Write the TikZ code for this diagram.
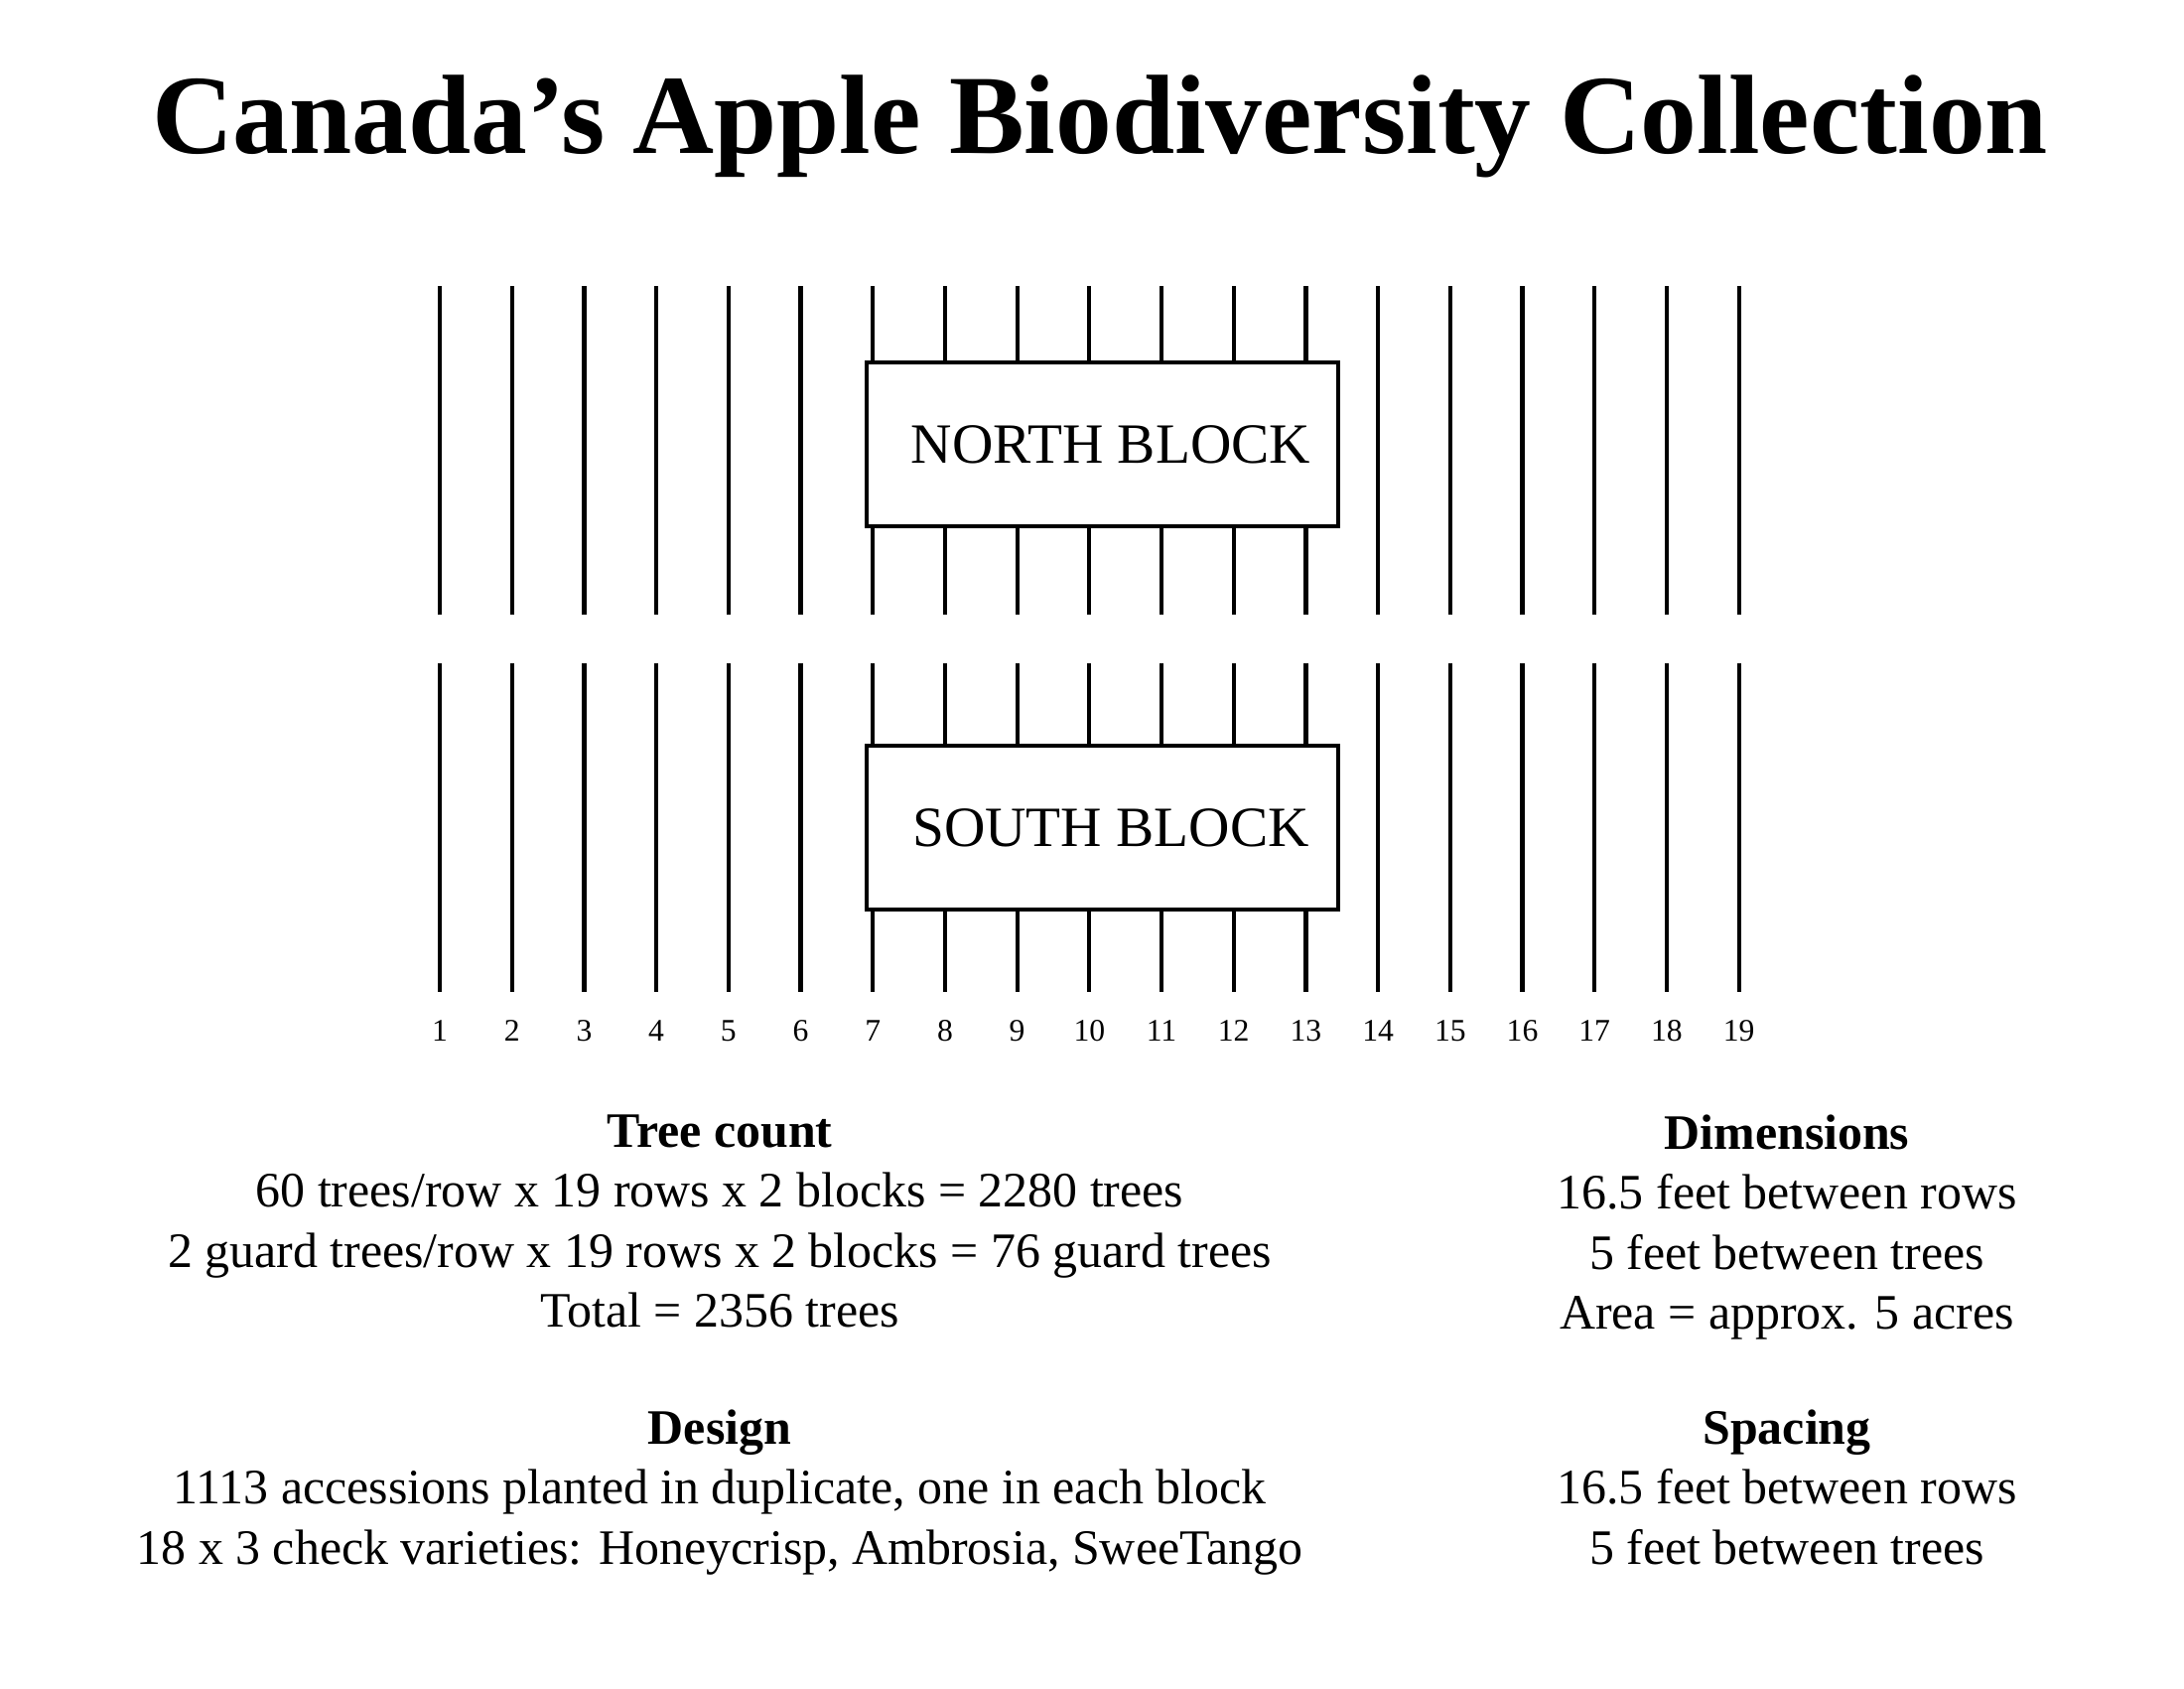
\documentclass[tikz,border=0pt]{standalone}
\usepackage{fontspec}
\setmainfont{Liberation Serif}
\usepackage{tikz}
\usetikzlibrary{positioning}

\begin{document}
\begin{tikzpicture}[
  every node/.style={align=center, inner sep=0pt},
  rowline/.style={line width=1.2pt},
  block/.style={rectangle, draw, line width=1.4pt, fill=white, minimum width=4.75cm, minimum height=1.65cm, font=\fontsize{16.3}{20}\selectfont},
  rownum/.style={font=\fontsize{9}{11}\selectfont, anchor=base},
  info/.style={font=\fontsize{14.2}{17.2}\selectfont, anchor=north}
]
\useasboundingbox (0,0) rectangle (22,-17);

% TITLE
\node[font=\fontsize{32.3}{38}\selectfont\bfseries, anchor=base] (title) at (11.08,-1.54) {Canada’s Apple Biodiversity Collection};

% ROWS
\foreach \i in {1,...,19} {
  \pgfmathsetmacro{\xx}{4.43+(\i-1)*0.727}
  \draw[rowline] (\xx,-2.88) -- (\xx,-6.19);
  \draw[rowline] (\xx,-6.68) -- (\xx,-9.99);
  \node[rownum] (num\i) at (\xx,-10.48) {\i};
}

% BLOCKS
\node[block] (north) at (11.105,-4.475) {\hspace{0.17cm}NORTH BLOCK};
\node[block] (south) at (11.105,-8.335) {\hspace{0.17cm}SOUTH BLOCK};

% TREE COUNT / DESIGN
\node[info] (treecount) at (7.25,-11.22) {%
  \textbf{Tree count}\\
  60 trees/row x 19 rows x 2 blocks = 2280 trees\\
  2 guard trees/row x 19 rows x 2 blocks = 76 guard trees\\
  Total = 2356 trees
};
\node[info] (design) at (7.25,-14.19) {%
  \textbf{Design}\\
  1113 accessions planted in duplicate, one in each block\\
  18 x 3 check varieties: Honeycrisp, Ambrosia, SweeTango
};

% DIMENSIONS / SPACING
\node[info] (dimensions) at (18.0,-11.22) {%
  \textbf{Dimensions}\\
  16.5 feet between rows\\
  5 feet between trees\\
  Area = approx. 5 acres
};
\node[info] (spacing) at (18.0,-14.19) {%
  \textbf{Spacing}\\
  16.5 feet between rows\\
  5 feet between trees
};

\end{tikzpicture}
\end{document}
